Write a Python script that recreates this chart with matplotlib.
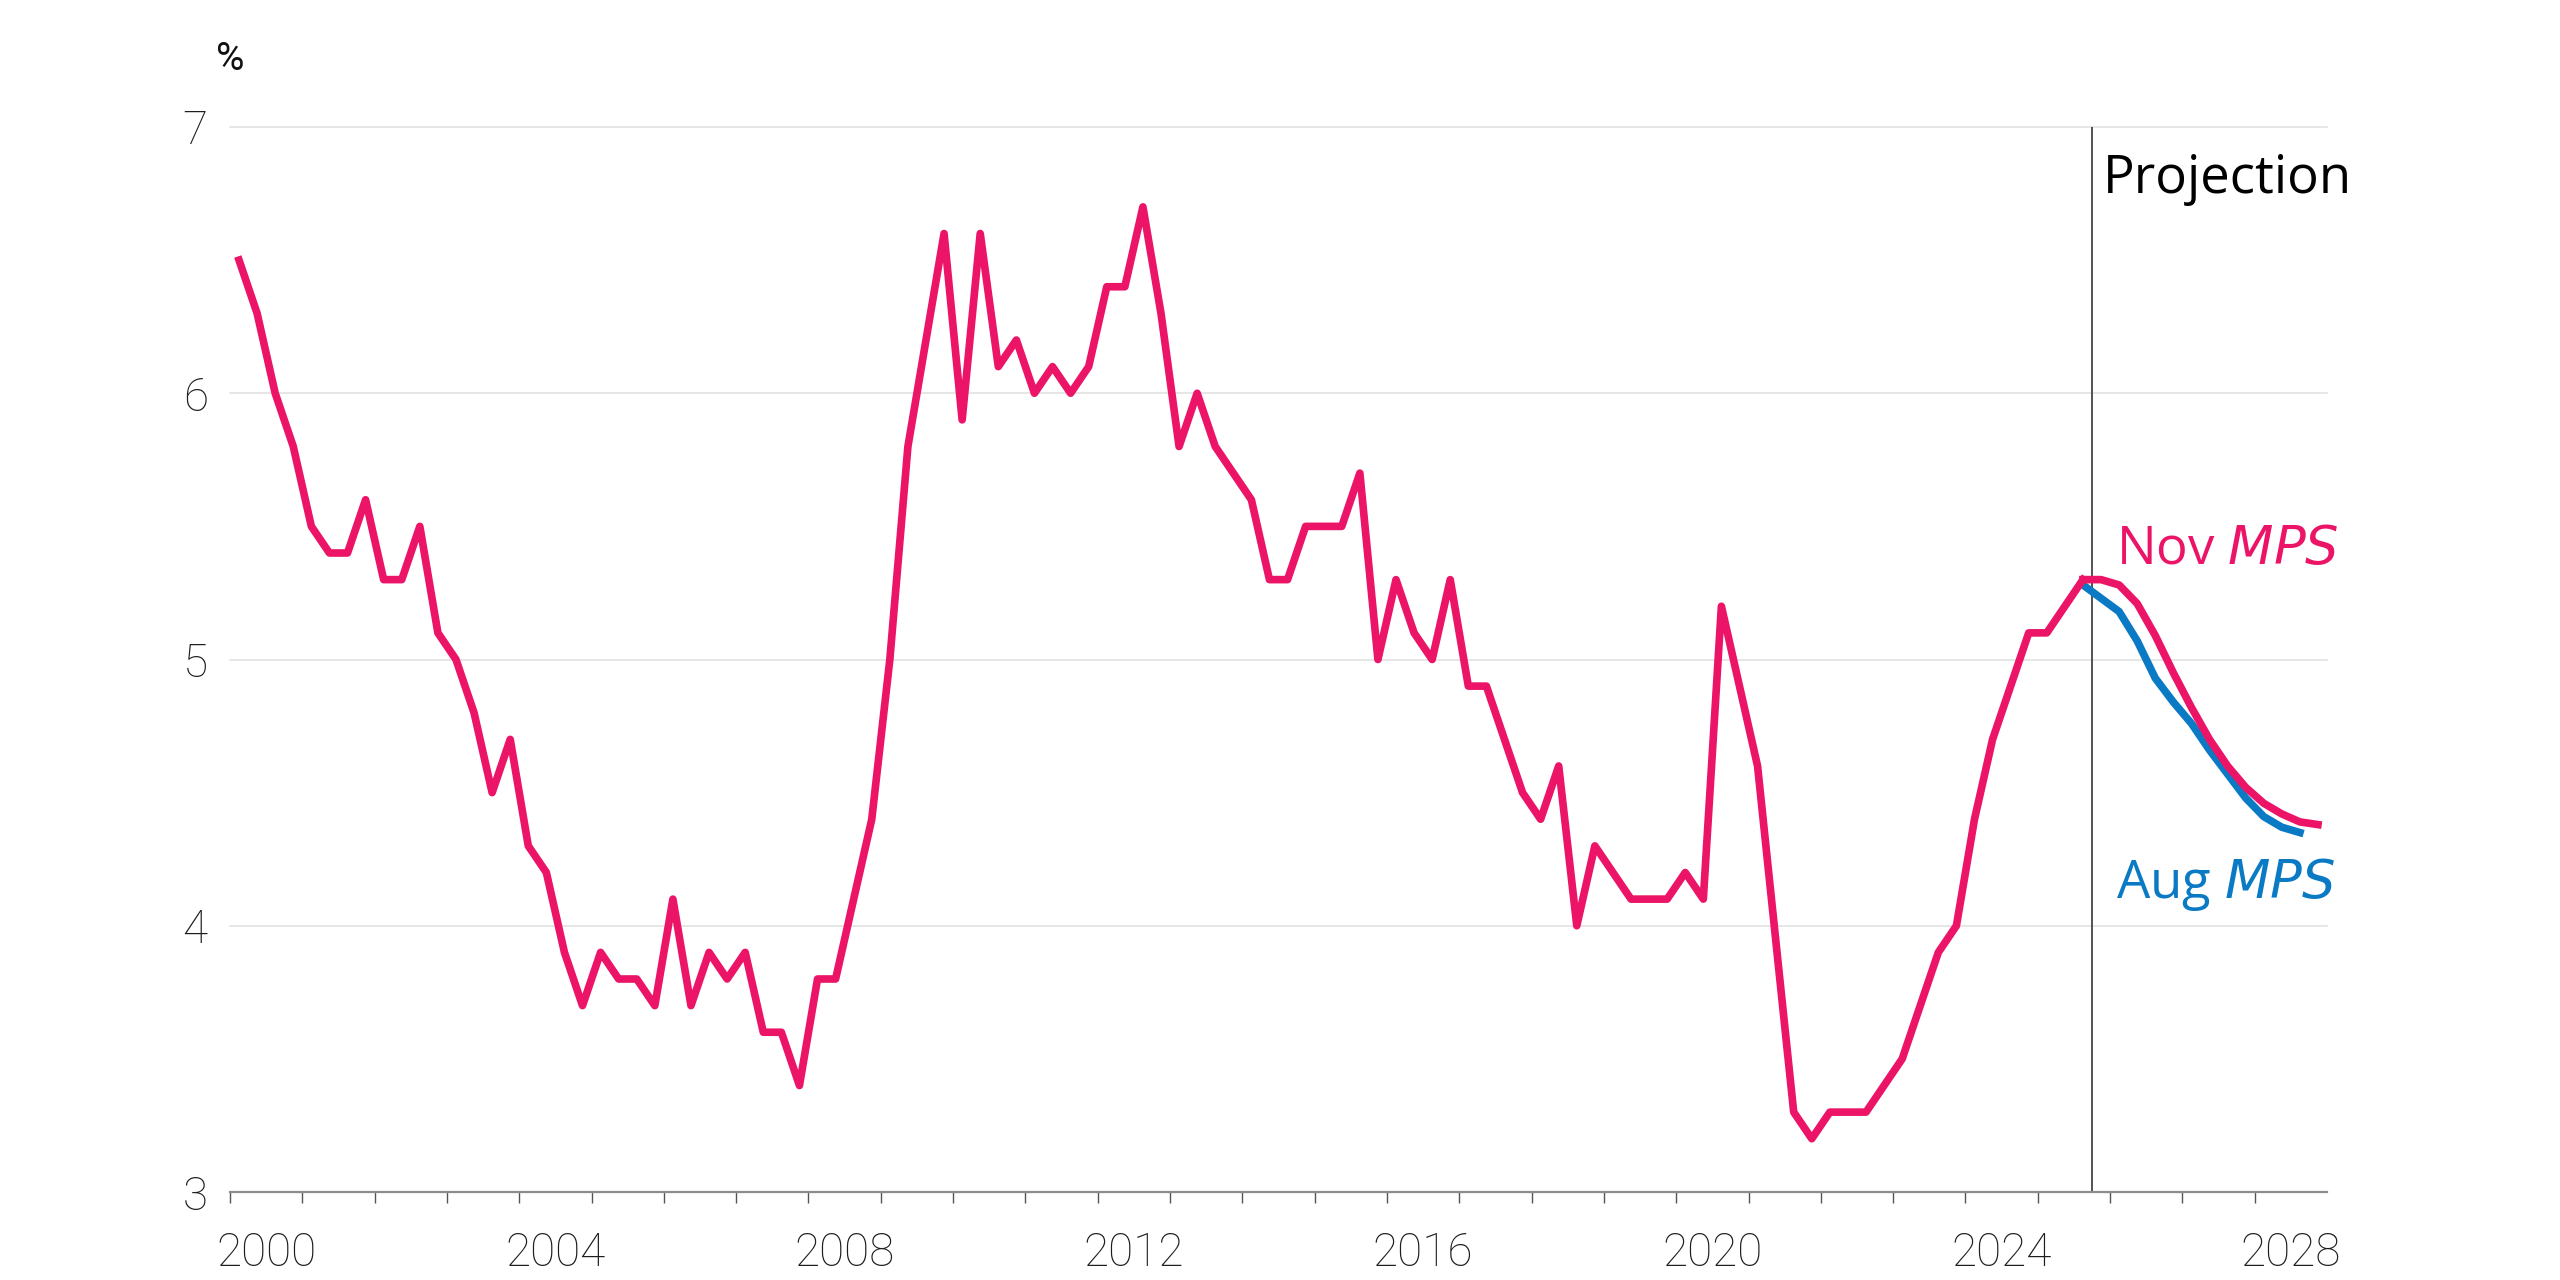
import matplotlib
matplotlib.use("Agg")
import matplotlib.pyplot as plt
import numpy as np

# quarterly data, 2000 Q1 to 2025 Q3 (per cent)
history = [6.5, 6.3, 6.0, 5.8,
           5.5, 5.4, 5.4, 5.6,
           5.3, 5.3, 5.5, 5.1,
           5.0, 4.8, 4.5, 4.7,
           4.3, 4.2, 3.9, 3.7,
           3.9, 3.8, 3.8, 3.7,
           4.1, 3.7, 3.9, 3.8,
           3.9, 3.6, 3.6, 3.4,
           3.8, 3.8, 4.1, 4.4,
           5.0, 5.8, 6.2, 6.6,
           5.9, 6.6, 6.1, 6.2,
           6.0, 6.1, 6.0, 6.1,
           6.4, 6.4, 6.7, 6.3,
           5.8, 6.0, 5.8, 5.7,
           5.6, 5.3, 5.3, 5.5,
           5.5, 5.5, 5.7, 5.0,
           5.3, 5.1, 5.0, 5.3,
           4.9, 4.9, 4.7, 4.5,
           4.4, 4.6, 4.0, 4.3,
           4.2, 4.1, 4.1, 4.1,
           4.2, 4.1, 5.2, 4.9,
           4.6, 3.95, 3.3, 3.2,
           3.3, 3.3, 3.3, 3.4,
           3.5, 3.7, 3.9, 4.0,
           4.4, 4.7, 4.9, 5.1,
           5.1, 5.2, 5.3]

# projections from 2025 Q3
nov_mps = [5.30, 5.30, 5.28, 5.21, 5.09, 4.95, 4.82, 4.70, 4.60, 4.52, 4.46, 4.42, 4.39, 4.38]
aug_mps = [5.28, 5.23, 5.18, 5.07, 4.93, 4.84, 4.76, 4.66, 4.57, 4.48, 4.41, 4.37, 4.35]

projection_start = 2025.75
year_labels = [2000, 2004, 2008, 2012, 2016, 2020, 2024, 2028]
y_ticks = [3, 4, 5, 6, 7]

pink = '#EB1466'
blue = '#0A7AC4'

x_hist = 2000 + (np.arange(len(history)) + 0.5) / 4
start = x_hist[-1]
x_nov = start + np.arange(len(nov_mps)) / 4
x_aug = start + np.arange(len(aug_mps)) / 4

fig = plt.figure(figsize=(25.6, 12.8), dpi=100)
ax = fig.add_axes([230 / 2560, 1 - 1192 / 1280, 2097 / 2560, 1065 / 1280])

for y in y_ticks[1:]:
    ax.axhline(y, color='#e2e2e2', lw=1.2, zorder=0, clip_on=False)

ax.axvline(projection_start, color='#444444', lw=1.3, zorder=1)

ax.plot(x_aug, aug_mps, color=blue, lw=5.5, solid_joinstyle='round', zorder=3)
ax.plot(x_hist, history, color=pink, lw=5.5, solid_joinstyle='round', zorder=4)
ax.plot(x_nov, nov_mps, color=pink, lw=5.5, solid_joinstyle='round', zorder=4)

ax.set_xlim(2000, 2029)
ax.set_ylim(3, 7)

for s in ['top', 'right', 'left']:
    ax.spines[s].set_visible(False)
ax.spines['bottom'].set_color('#8c8c8c')
ax.spines['bottom'].set_linewidth(1.6)

tick_font = dict(family='Roboto', weight='light', size=33, color='#1e1e1e')

# year boundaries as ticks, labels in the middle of the year
ax.set_xticks(np.arange(2000, 2029))
ax.set_xticklabels([])
ax.tick_params(axis='x', which='major', direction='out', length=8, width=1, color='#555555')
ax.set_xticks([y + 0.5 for y in year_labels], minor=True)
ax.set_xticklabels([str(y) for y in year_labels], minor=True, fontdict=tick_font)
ax.tick_params(axis='x', which='minor', length=0, pad=28)

ax.set_yticks(y_ticks)
ax.set_yticklabels([str(y) for y in y_ticks], fontdict=tick_font)
ax.tick_params(axis='y', length=0, pad=16)

fig.text(230 / 2560, 1 - 60 / 1280, '%', ha='center', va='center',
         fontsize=28, family='Roboto', color='#111111')

fig.text(2103 / 2560, 1 - 193 / 1280, 'Projection', ha='left', va='baseline',
         fontsize=38, family='Open Sans', color='black')
fig.text(2116 / 2560, 1 - 564 / 1280, 'Nov $\\mathit{MPS}$', ha='left', va='baseline',
         fontsize=38, family='Open Sans', color=pink)
fig.text(2116 / 2560, 1 - 898 / 1280, 'Aug $\\mathit{MPS}$', ha='left', va='baseline',
         fontsize=38, family='Open Sans', color=blue)

fig.savefig('out.png', dpi=100)
